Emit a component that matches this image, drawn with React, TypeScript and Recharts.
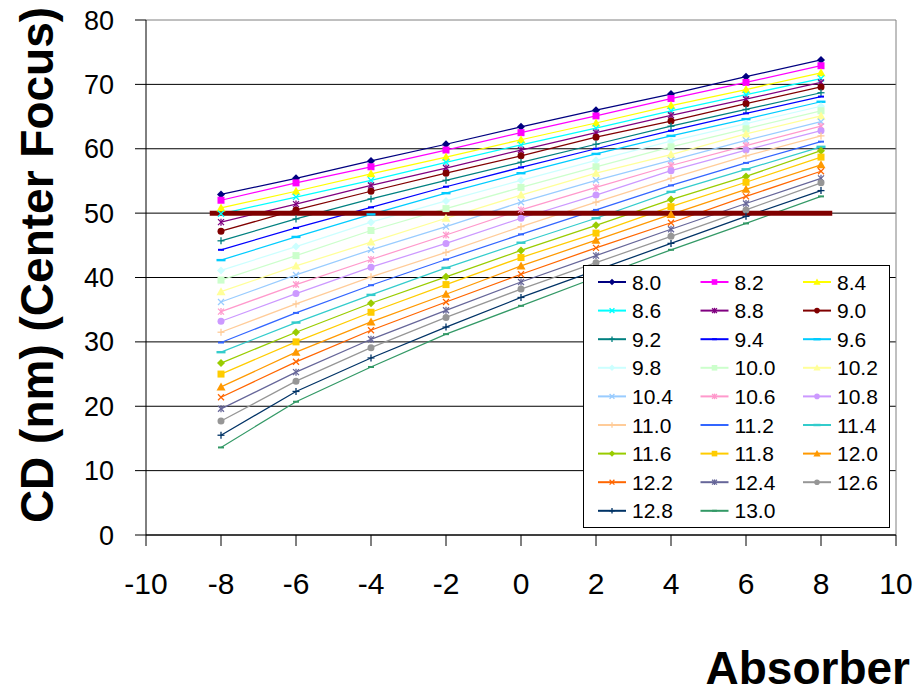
import React from "react";
import { LineChart, Line, XAxis, YAxis, CartesianGrid, Legend, ReferenceLine } from "recharts";

// absorber positions sampled for every focus setting
const absorber = [-8, -6, -4, -2, 0, 2, 4, 6, 8];
const xTicks = [-10, -8, -6, -4, -2, 0, 2, 4, 6, 8, 10];
const yTicks = [0, 10, 20, 30, 40, 50, 60, 70, 80];

const focusLabels = [
  "8.0", "8.2", "8.4", "8.6", "8.8", "9.0", "9.2", "9.4", "9.6",
  "9.8", "10.0", "10.2", "10.4", "10.6", "10.8", "11.0", "11.2", "11.4",
  "11.6", "11.8", "12.0", "12.2", "12.4", "12.6", "12.8", "13.0",
];

// CD (nm) per focus, one value per absorber position
const cd8_0 = [52.9, 55.4, 58.1, 60.7, 63.4, 66.0, 68.5, 71.2, 73.8];
const cd8_2 = [52.0, 54.7, 57.2, 59.8, 62.5, 65.1, 67.8, 70.3, 72.9];
const cd8_4 = [50.8, 53.4, 56.1, 58.7, 61.4, 64.0, 66.7, 69.2, 71.8];
const cd8_6 = [49.9, 52.5, 55.1, 57.9, 60.6, 63.2, 65.9, 68.4, 70.9];
const cd8_8 = [48.6, 51.4, 54.3, 57.0, 59.8, 62.5, 65.2, 67.7, 70.3];
const cd9_0 = [47.2, 50.5, 53.4, 56.2, 58.9, 61.8, 64.3, 67.0, 69.6];
const cd9_2 = [45.7, 49.1, 52.2, 55.1, 57.9, 60.7, 63.5, 66.1, 68.7];
const cd9_4 = [44.3, 47.7, 50.9, 54.1, 57.1, 60.0, 62.8, 65.5, 68.1];
const cd9_6 = [42.7, 46.3, 49.8, 53.1, 56.2, 59.2, 62.0, 64.6, 67.3];
const cd9_8 = [41.1, 44.8, 48.6, 51.9, 55.1, 58.2, 61.2, 63.9, 66.6];
const cd10_0 = [39.6, 43.4, 47.3, 50.7, 54.0, 57.2, 60.3, 63.1, 65.9];
const cd10_2 = [37.8, 41.8, 45.5, 49.2, 52.8, 56.2, 59.1, 62.3, 65.1];
const cd10_4 = [36.2, 40.4, 44.3, 47.9, 51.7, 55.1, 58.2, 61.3, 64.2];
const cd10_6 = [34.7, 38.9, 42.8, 46.6, 50.5, 54.0, 57.4, 60.5, 63.5];
const cd10_8 = [33.2, 37.5, 41.6, 45.3, 49.2, 52.8, 56.6, 59.8, 62.8];
const cd11_0 = [31.5, 35.9, 40.1, 43.9, 47.9, 51.7, 55.4, 58.9, 62.0];
const cd11_2 = [29.9, 34.5, 38.8, 42.8, 46.7, 50.5, 54.3, 57.8, 61.1];
const cd11_4 = [28.4, 33.0, 37.3, 41.5, 45.4, 49.2, 53.3, 56.8, 60.3];
const cd11_6 = [26.7, 31.5, 36.0, 40.1, 44.2, 48.1, 52.1, 55.7, 59.7];
const cd11_8 = [25.0, 30.0, 34.6, 38.9, 43.1, 46.9, 51.0, 54.8, 58.7];
const cd12_0 = [23.0, 28.4, 33.1, 37.4, 41.8, 45.8, 49.8, 53.7, 57.5];
const cd12_2 = [21.4, 26.9, 31.8, 36.2, 40.5, 44.6, 48.5, 52.6, 56.5];
const cd12_4 = [19.6, 25.3, 30.4, 34.9, 39.3, 43.4, 47.5, 51.5, 55.4];
const cd12_6 = [17.7, 23.9, 29.1, 33.8, 38.2, 42.3, 46.4, 50.5, 54.7];
const cd12_8 = [15.5, 22.3, 27.5, 32.3, 36.9, 41.1, 45.3, 49.5, 53.5];
const cd13_0 = [13.6, 20.7, 26.1, 31.2, 35.6, 40.0, 44.3, 48.4, 52.6];

const seriesValues = [
  cd8_0, cd8_2, cd8_4, cd8_6, cd8_8, cd9_0, cd9_2, cd9_4, cd9_6,
  cd9_8, cd10_0, cd10_2, cd10_4, cd10_6, cd10_8, cd11_0, cd11_2, cd11_4,
  cd11_6, cd11_8, cd12_0, cd12_2, cd12_4, cd12_6, cd12_8, cd13_0,
];

const seriesColors = [
  "#000080", "#FF00FF", "#FFFF00", "#00FFFF", "#800080", "#800000", "#008080", "#0000FF", "#00CCFF",
  "#CCFFFF", "#CCFFCC", "#FFFF99", "#99CCFF", "#FF99CC", "#CC99FF", "#FFCC99", "#3366FF", "#33CCCC",
  "#99CC00", "#FFCC00", "#FF9900", "#FF6600", "#666699", "#969696", "#003366", "#339966",
];

// marker styles cycle every nine series
const markerCycle = ["diamond", "square", "triangle", "x", "star", "circle", "plus", "dash", "longDash"];

// target CD band
const targetCd = 50;
const targetFrom = -8.3;
const targetTo = 8.3;

const rows = absorber.map((x, i) => {
  const row: Record<string, number> = { x };
  seriesValues.forEach((vals, s) => {
    row[`s${s}`] = vals[i];
  });
  return row;
});

const FONT = "'Liberation Sans', Arial, Helvetica, sans-serif";

function Marker({ shape, cx, cy, color, k = 1 }: { shape: string; cx: number; cy: number; color: string; k?: number }) {
  const r = 4 * k;
  switch (shape) {
    case "diamond":
      return <polygon points={`${cx},${cy - r} ${cx + r},${cy} ${cx},${cy + r} ${cx - r},${cy}`} fill={color} />;
    case "square":
      return <rect x={cx - 3.5 * k} y={cy - 3.5 * k} width={7 * k} height={7 * k} fill={color} />;
    case "triangle":
      return <polygon points={`${cx},${cy - 4.5 * k} ${cx + 4.5 * k},${cy + 3.5 * k} ${cx - 4.5 * k},${cy + 3.5 * k}`} fill={color} />;
    case "x":
      return (
        <g stroke={color} strokeWidth={1.3}>
          <line x1={cx - 3 * k} y1={cy - 3 * k} x2={cx + 3 * k} y2={cy + 3 * k} />
          <line x1={cx - 3 * k} y1={cy + 3 * k} x2={cx + 3 * k} y2={cy - 3 * k} />
        </g>
      );
    case "star":
      return (
        <g stroke={color} strokeWidth={1.3}>
          <line x1={cx - 3 * k} y1={cy - 3 * k} x2={cx + 3 * k} y2={cy + 3 * k} />
          <line x1={cx - 3 * k} y1={cy + 3 * k} x2={cx + 3 * k} y2={cy - 3 * k} />
          <line x1={cx} y1={cy - 3.5 * k} x2={cx} y2={cy + 3.5 * k} />
        </g>
      );
    case "circle":
      return <circle cx={cx} cy={cy} r={3.5 * k} fill={color} />;
    case "plus":
      return (
        <g stroke={color} strokeWidth={1.3}>
          <line x1={cx - 3.5 * k} y1={cy} x2={cx + 3.5 * k} y2={cy} />
          <line x1={cx} y1={cy - 3.5 * k} x2={cx} y2={cy + 3.5 * k} />
        </g>
      );
    case "dash":
      return <rect x={cx - 3 * k} y={cy - 1} width={6 * k} height={2} fill={color} />;
    default:
      return <rect x={cx - 4.5 * k} y={cy - 1.2} width={9 * k} height={2.4} fill={color} />;
  }
}

function FocusLegend() {
  return (
    <svg width={305} height={261} style={{ display: "block" }}>
      {focusLabels.map((label, i) => {
        const col = i % 3;
        const row = Math.floor(i / 3);
        const x0 = 14 + col * 102.5;
        const cy = 16 + row * 28.6;
        const color = seriesColors[i];
        return (
          <g key={label}>
            <line x1={x0} y1={cy} x2={x0 + 28} y2={cy} stroke={color} strokeWidth={2} />
            <Marker shape={markerCycle[i % 9]} cx={x0 + 14} cy={cy} color={color} k={0.8} />
            <text x={x0 + 34} y={cy + 7.5} fontSize={21} fontFamily={FONT} fill="#000">
              {label}
            </text>
          </g>
        );
      })}
    </svg>
  );
}

// axis title drawn at a fixed spot; prop names kept apart from the ones recharts injects
function AxisTitle({ px, py, turn = 0, anchor = "middle", children }: any) {
  return (
    <text
      x={px}
      y={py}
      transform={turn ? `rotate(${turn} ${px} ${py})` : undefined}
      textAnchor={anchor}
      fontSize={46}
      fontWeight="bold"
      fontFamily={FONT}
      fill="#000"
    >
      {children}
    </text>
  );
}

const gridLine = (p: any) => (
  <line
    key={`grid-${p.index}`}
    x1={p.x1}
    y1={p.y1}
    x2={p.x2}
    y2={p.y2}
    stroke={p.y1 < 24 ? "#808080" : "#000"}
    strokeWidth={1}
  />
);

export default function App() {
  return (
    <>
      <style>{"html, body { margin: 0; padding: 0; overflow: hidden; }"}</style>
      <div style={{ width: 916, height: 696, background: "#fff", fontFamily: FONT }}>
        <LineChart width={916} height={696} data={rows} margin={{ top: 20, right: 20, bottom: 101, left: 66 }}>
          <CartesianGrid vertical={false} horizontal={gridLine} />
          <XAxis
            dataKey="x"
            type="number"
            domain={[-10, 10]}
            ticks={xTicks}
            interval={0}
            height={60}
            stroke="#000"
            tickSize={11}
            tickMargin={27}
            tick={{ fontSize: 30, fill: "#000", fontFamily: FONT }}
            label={<AxisTitle px={910} py={684} anchor="end">Absorber</AxisTitle>}
          />
          <YAxis
            type="number"
            domain={[0, 80]}
            ticks={yTicks}
            interval={0}
            width={80}
            stroke="#000"
            tickSize={11}
            tickMargin={21}
            tick={{ fontSize: 27, fill: "#000", fontFamily: FONT }}
            label={<AxisTitle px={53} py={265} turn={-90}>CD (nm) (Center Focus)</AxisTitle>}
          />
          <ReferenceLine x={10} stroke="#808080" strokeWidth={1} />
          {focusLabels.map((label, i) => {
            const color = seriesColors[i];
            const shape = markerCycle[i % 9];
            return (
              <Line
                key={label}
                type="linear"
                dataKey={`s${i}`}
                name={label}
                stroke={color}
                strokeWidth={1.25}
                isAnimationActive={false}
                activeDot={false}
                dot={(p: any) => (
                  <Marker key={`${label}-${p.index}`} shape={shape} cx={p.cx} cy={p.cy} color={color} />
                )}
              />
            );
          })}
          <ReferenceLine
            segment={[
              { x: targetFrom, y: targetCd },
              { x: targetTo, y: targetCd },
            ]}
            stroke="#800000"
            strokeWidth={5}
          />
          <Legend
            layout="horizontal"
            verticalAlign="middle"
            align="center"
            content={() => <FocusLegend />}
            wrapperStyle={{
              position: "absolute",
              left: 583,
              top: 265,
              width: 307,
              height: 263,
              boxSizing: "border-box",
              border: "1px solid #000",
              background: "#fff",
            }}
          />
        </LineChart>
      </div>
    </>
  );
}
